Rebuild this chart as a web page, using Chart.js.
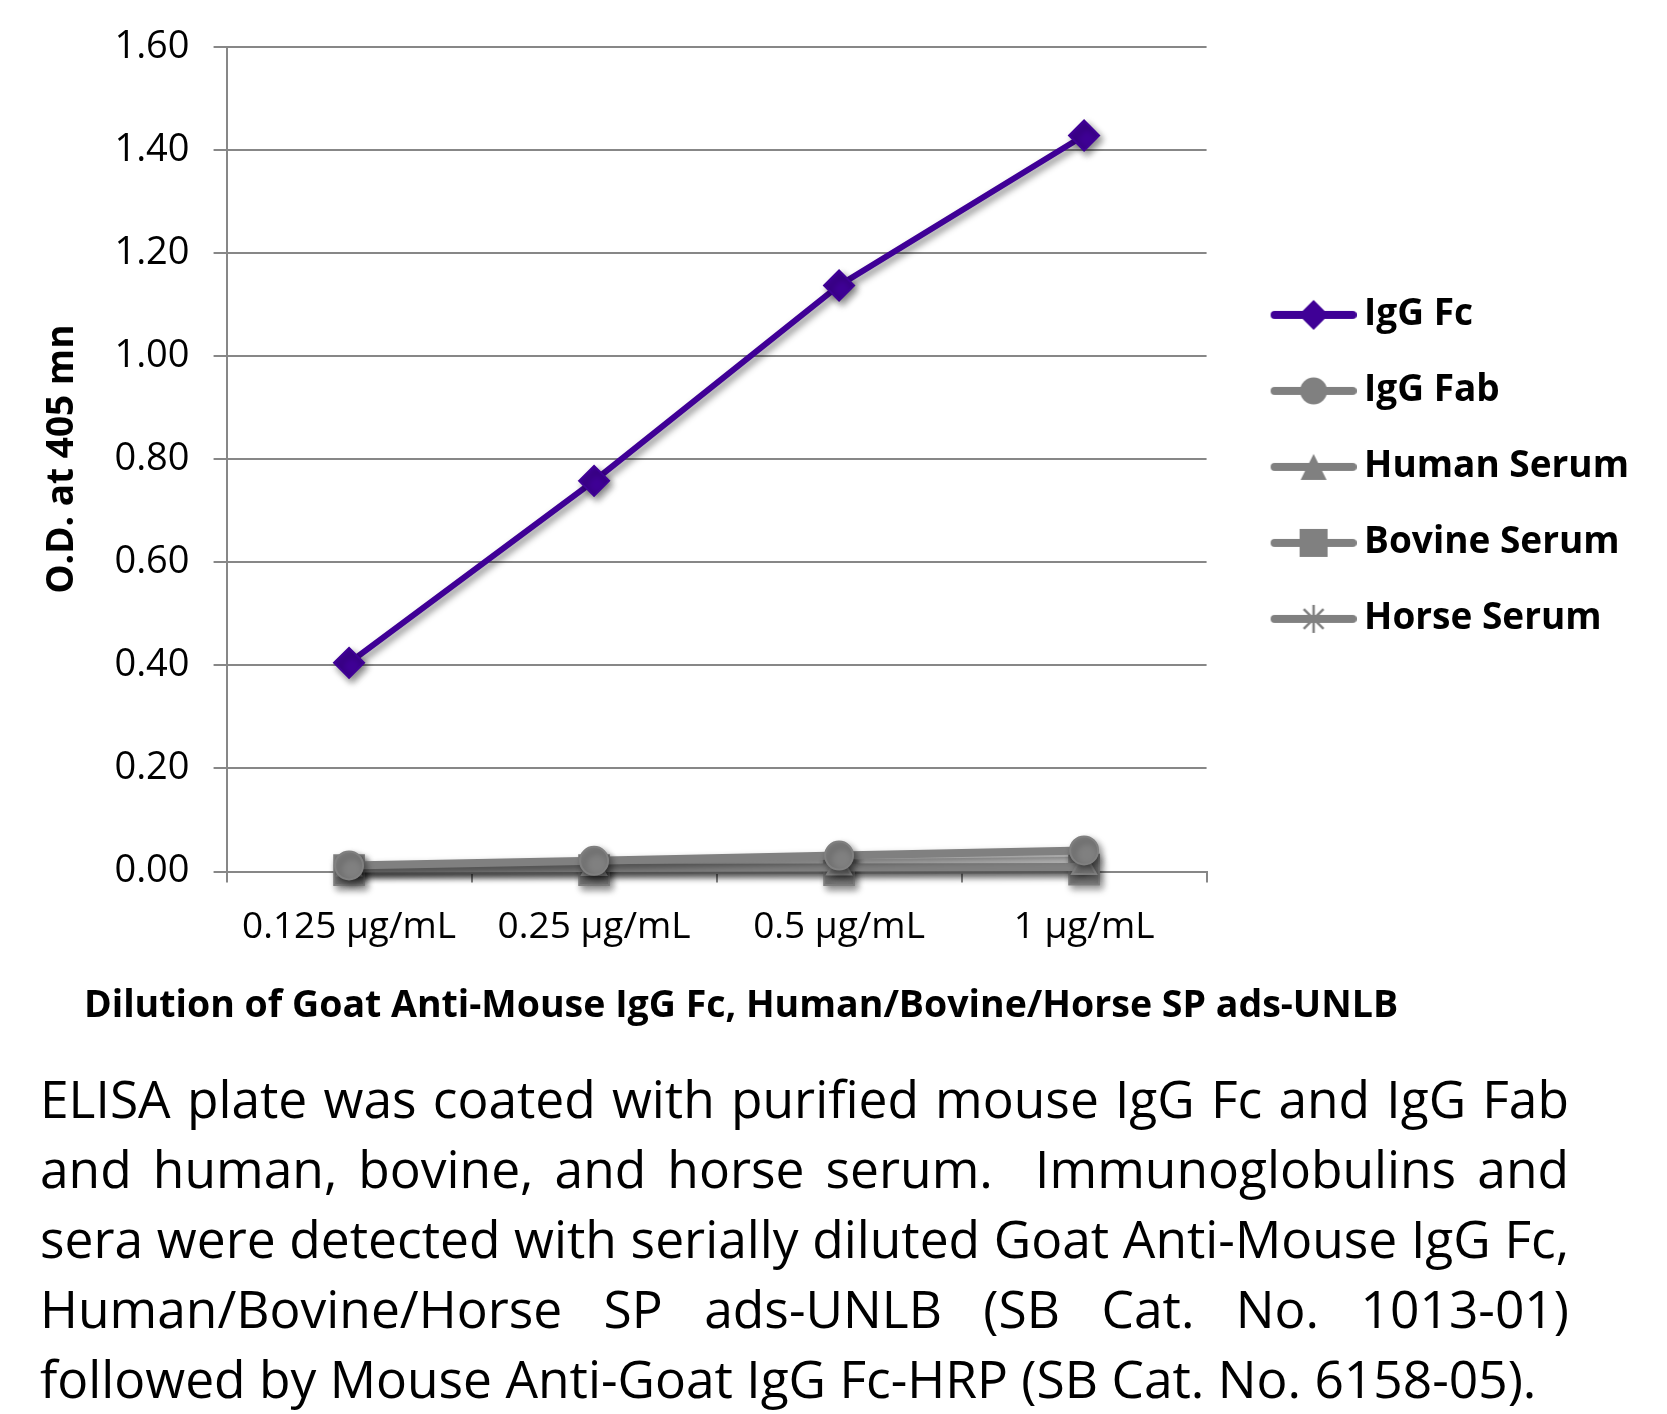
<!DOCTYPE html>
<html>
<head>
<meta charset="utf-8">
<script src="https://cdn.jsdelivr.net/npm/chart.js@4.4.1/dist/chart.umd.min.js"></script>
<style>
  html, body { margin: 0; padding: 0; background: #fff; }
  #wrap { position: relative; width: 1667px; height: 1414px; overflow: hidden; }
  #chart { position: absolute; left: 0; top: 0; }
  #caption {
    position: absolute; left: 40px; top: 1063px; width: 1529px;
    font-family: "Open Sans", sans-serif; font-size: 46px; line-height: 70px; color: #000;
  }
  #caption .j { text-align: justify; text-align-last: justify; }
</style>
</head>
<body>
<div id="wrap">
  <canvas id="chart" width="1667" height="1050"></canvas>
  <div id="caption">
    <div class="j">ELISA plate was coated with purified mouse IgG Fc and IgG Fab</div>
    <div class="j">and human, bovine, and horse serum.&nbsp; Immunoglobulins and</div>
    <div class="j">sera were detected with serially diluted Goat Anti-Mouse IgG Fc,</div>
    <div class="j">Human/Bovine/Horse SP ads-UNLB (SB Cat. No. 1013-01)</div>
    <div>followed by Mouse Anti-Goat IgG Fc-HRP (SB Cat. No. 6158-05).</div>
  </div>
</div>
<script>
const categories = ['0.125 μg/mL', '0.25 μg/mL', '0.5 μg/mL', '1 μg/mL'];
const seriesNames = ['IgG Fc', 'IgG Fab', 'Human Serum', 'Bovine Serum', 'Horse Serum'];
const iggFc = [0.405, 0.758, 1.137, 1.428];
const iggFab = [0.012, 0.021, 0.031, 0.041];
const humanSerum = [0.006, 0.007, 0.008, 0.009];
const bovineSerum = [0.003, 0.003, 0.003, 0.004];
const horseSerum = [0.005, 0.010, 0.016, 0.021];
const yMin = 0, yMax = 1.6, yStep = 0.2;
const xTitle = 'Dilution of Goat Anti-Mouse IgG Fc, Human/Bovine/Horse SP ads-UNLB';

const PURPLE = '#3f0096';
const GRAY = '#808080';
const LIGHT = '#c4c4c4';

// fit the caption font so the longest line fills the text width
(function fitCaption() {
  const c = document.createElement('canvas').getContext('2d');
  const line = 'sera were detected with serially diluted Goat Anti-Mouse IgG Fc,';
  c.font = '100px "Open Sans"';
  const w = c.measureText(line).width;
  document.getElementById('caption').style.fontSize = Math.floor(1529 / w * 100 * 10) / 10 + 'px';
})();

// legend icons: a short line with the marker in the middle
function legendIcon(color, shape) {
  const cv = document.createElement('canvas');
  cv.width = 122; cv.height = 40;
  const c = cv.getContext('2d');
  const x0 = 36, x1 = 122, cy = 20, cx = (x0 + x1) / 2;
  c.strokeStyle = color; c.fillStyle = color;
  c.lineWidth = 8; c.lineCap = 'round';
  c.beginPath(); c.moveTo(x0 + 4, cy); c.lineTo(x1 - 4, cy); c.stroke();
  c.beginPath();
  if (shape === 'diamond') {
    c.moveTo(cx, cy - 15); c.lineTo(cx + 15, cy); c.lineTo(cx, cy + 15); c.lineTo(cx - 15, cy); c.closePath(); c.fill();
  } else if (shape === 'circle') {
    c.arc(cx, cy, 13.5, 0, Math.PI * 2); c.fill();
  } else if (shape === 'triangle') {
    c.moveTo(cx, cy - 13); c.lineTo(cx + 13, cy + 13); c.lineTo(cx - 13, cy + 13); c.closePath(); c.fill();
  } else if (shape === 'square') {
    c.rect(cx - 14, cy - 14, 28, 28); c.fill();
  } else if (shape === 'star') {
    c.lineWidth = 2.5; c.lineCap = 'butt';
    for (let k = 0; k < 4; k++) {
      const a = k * Math.PI / 4;
      c.moveTo(cx - 14 * Math.cos(a), cy - 14 * Math.sin(a));
      c.lineTo(cx + 14 * Math.cos(a), cy + 14 * Math.sin(a));
    }
    c.stroke();
  }
  return cv;
}
const icons = [
  legendIcon(PURPLE, 'diamond'),
  legendIcon(GRAY, 'circle'),
  legendIcon(GRAY, 'triangle'),
  legendIcon(GRAY, 'square'),
  legendIcon(GRAY, 'star')
];

const shadowPlugin = {
  id: 'shadow',
  beforeDatasetDraw(chart) {
    const c = chart.ctx;
    c.save();
    c.shadowColor = 'rgba(0,0,0,0.45)';
    c.shadowBlur = 7;
    c.shadowOffsetX = 3;
    c.shadowOffsetY = 4;
  },
  afterDatasetDraw(chart) { chart.ctx.restore(); }
};

// x axis title is wider than the plot, so it is drawn here
const xTitlePlugin = {
  id: 'xTitle',
  afterDraw(chart) {
    const c = chart.ctx;
    c.save();
    c.font = 'bold 37.5px "Open Sans"';
    c.fillStyle = '#000';
    c.textAlign = 'center';
    c.textBaseline = 'middle';
    c.fillText(xTitle, 741, 1006);
    c.restore();
  }
};

function ds(label, data, color, style, radius, width) {
  return {
    label, data,
    borderColor: color, backgroundColor: color,
    pointBackgroundColor: color, pointBorderColor: color,
    pointStyle: style, pointRadius: radius, pointHoverRadius: radius, pointBorderWidth: 2,
    borderWidth: width, tension: 0, clip: false
  };
}

new Chart(document.getElementById('chart'), {
  type: 'line',
  data: {
    labels: categories,
    datasets: [
      ds(seriesNames[0], iggFc, PURPLE, 'rectRot', 15, 6),
      ds(seriesNames[1], iggFab, GRAY, 'circle', 14, 8),
      ds(seriesNames[2], humanSerum, GRAY, 'triangle', 14, 8),
      ds(seriesNames[3], bovineSerum, GRAY, 'rect', 21, 8),
      Object.assign(ds(seriesNames[4], horseSerum, LIGHT, 'star', 13, 8), { pointBorderColor: GRAY, pointBackgroundColor: GRAY })
    ]
  },
  plugins: [shadowPlugin, xTitlePlugin],
  options: {
    responsive: false,
    animation: false,
    devicePixelRatio: 1,
    layout: { padding: { left: 40, right: 28, top: 46, bottom: 77 } },
    plugins: {
      tooltip: { enabled: false },
      legend: {
        position: 'right',
        align: 'start',
        maxWidth: 700,
        title: { display: true, text: '', padding: { top: 197, bottom: 0 } },
        labels: {
          usePointStyle: true,
          pointStyleWidth: 100,
          padding: 39,
          color: '#000',
          font: { family: 'Open Sans', weight: 'bold', size: 37 },
          generateLabels: (chart) => chart.data.datasets.map((d, i) => ({
            text: d.label, pointStyle: icons[i], datasetIndex: i,
            fillStyle: 'transparent', strokeStyle: 'transparent', lineWidth: 0, hidden: false, fontColor: '#000'
          }))
        }
      }
    },
    scales: {
      x: {
        offset: true,
        grid: { offset: true, drawOnChartArea: false, color: '#878787', lineWidth: 2, tickLength: 11 },
        border: { color: '#878787', width: 2 },
        ticks: { color: '#000', padding: 23, font: { family: 'Open Sans', size: 37 }, maxRotation: 0 }
      },
      y: {
        min: yMin, max: yMax,
        grid: { color: '#878787', lineWidth: 2, tickLength: 13 },
        border: { color: '#878787', width: 2 },
        ticks: { stepSize: yStep, color: '#000', padding: 24, font: { family: 'Open Sans', size: 38 },
          callback: (v) => Number(v).toFixed(2) },
        title: {
          display: true, text: 'O.D. at 405 mn',
          color: '#000', font: { family: 'Open Sans', weight: 'bold', size: 37 }, padding: { top: 0, bottom: 6 }
        }
      }
    }
  }
});
</script>
</body>
</html>
